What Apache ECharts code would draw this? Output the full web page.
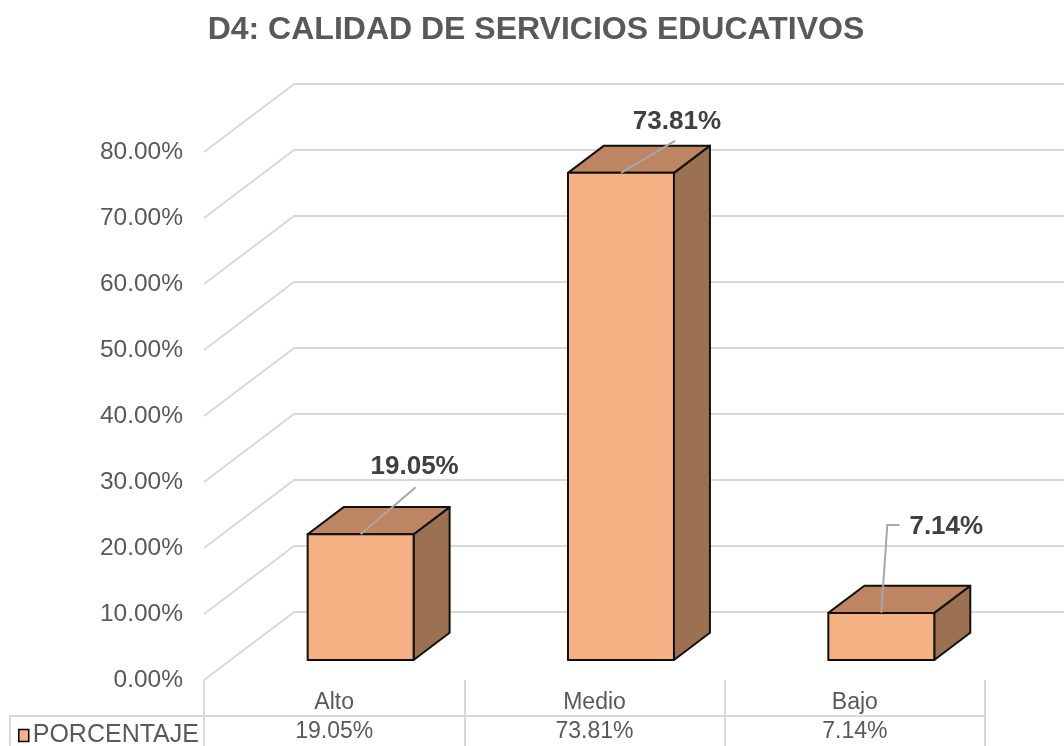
<!DOCTYPE html>
<html>
<head>
<meta charset="utf-8">
<script src="https://cdn.jsdelivr.net/npm/echarts@6/dist/echarts.min.js"></script>
<style>
  html, body { margin: 0; padding: 0; background: #fff; }
  #chart { width: 1064px; height: 746px; }
</style>
</head>
<body>
<div id="chart"></div>
<script>
const categories = ["Alto", "Medio", "Bajo"];
const percentages = [19.05, 73.81, 7.14];
const gridValues = [0, 10, 20, 30, 40, 50, 60, 70, 80];
const seriesName = "PORCENTAJE";

const FONT = "'Liberation Sans', Arial, sans-serif";
const fmt = (v) => v.toFixed(2) + "%";

// 3D look: how far the back wall sits from the front plane
const DEPTH_X = 90;
const DEPTH_Y = -68;
const BAR_FRONT = 0.294;
const BAR_BACK = 0.694;
const BAR_WIDTH = 0.407;

// label placement relative to the top centre of each bar (hand placed in the original)
const labelLayout = [
  { dx: 54, dy: -67, leader: [[0, 0], [55, -47]] },
  { dx: 56, dy: -51, leader: [[0, 0], [54, -32]] },
  { dx: 65, dy: -86, leader: [[0, 0], [6, -88], [18, -88]] },
];

const chart = echarts.init(document.getElementById("chart"));

const renderWall = (params, api) => {
  const v = api.value(1);
  const p = api.coord([0, v]);
  const band = api.size([1, 0])[0];
  const left = p[0] - band / 2;
  const right = left + band * categories.length;
  return {
    type: "polyline",
    shape: {
      points: [
        [left, p[1]],
        [left + DEPTH_X, p[1] + DEPTH_Y],
        [right + DEPTH_X, p[1] + DEPTH_Y],
      ],
    },
    style: { stroke: "#d9d9d9", lineWidth: 2, fill: null },
  };
};

const renderBar = (params, api) => {
  const idx = api.value(0);
  const v = api.value(1);
  const top = api.coord([idx, v]);
  const base = api.coord([idx, 0]);
  const band = api.size([1, 0])[0];
  const w = band * BAR_WIDTH;
  const ox = DEPTH_X * BAR_FRONT;
  const oy = DEPTH_Y * BAR_FRONT;
  const dx = DEPTH_X * (BAR_BACK - BAR_FRONT);
  const dy = DEPTH_Y * (BAR_BACK - BAR_FRONT);
  const x0 = top[0] - w / 2 + ox;
  const x1 = top[0] + w / 2 + ox;
  const yt = top[1] + oy;
  const yb = base[1] + oy;
  const border = { stroke: "#111", lineWidth: 2, lineJoin: "round" };

  const cx = (x0 + x1) / 2;
  const lay = labelLayout[idx];
  const leaderPts = lay.leader.map((q) => [cx + q[0], yt + q[1]]);

  return {
    type: "group",
    children: [
      {
        type: "polygon",
        shape: { points: [[x1, yt], [x1 + dx, yt + dy], [x1 + dx, yb + dy], [x1, yb]] },
        style: Object.assign({ fill: "#9c7152" }, border),
      },
      {
        type: "polygon",
        shape: { points: [[x0, yt], [x0 + dx, yt + dy], [x1 + dx, yt + dy], [x1, yt]] },
        style: Object.assign({ fill: "#bd8562" }, border),
      },
      {
        type: "rect",
        shape: { x: x0, y: yt, width: x1 - x0, height: yb - yt },
        style: Object.assign({ fill: "#f4b183" }, border),
      },
      {
        type: "polyline",
        shape: { points: leaderPts },
        style: { stroke: "#a6a6a6", lineWidth: 2, fill: null },
      },
      {
        type: "text",
        style: {
          text: fmt(v),
          x: cx + lay.dx,
          y: yt + lay.dy,
          align: "center",
          verticalAlign: "middle",
          fill: "#404040",
          fontSize: 26,
          fontWeight: "bold",
          fontFamily: FONT,
        },
      },
    ],
  };
};

const option = {
  animation: false,
  textStyle: { fontFamily: FONT },
  title: {
    text: "D4: CALIDAD DE SERVICIOS EDUCATIVOS",
    left: 531,
    textAlign: "center",
    top: 9,
    textStyle: { fontSize: 32, fontWeight: "bold", color: "#595959", fontFamily: FONT },
  },
  legend: {
    data: [seriesName],
    left: 13,
    top: 718,
    icon: "rect",
    itemWidth: 10,
    itemHeight: 12,
    itemStyle: { borderColor: "#000", borderWidth: 1.5 },
    textStyle: { fontSize: 25, color: "#595959", fontFamily: FONT, padding: [0, 0, 0, -1] },
  },
  grid: { left: 204, right: 79, top: 152, bottom: 66 },
  xAxis: [
    {
      type: "category",
      data: categories,
      axisLine: { show: false },
      axisTick: { show: true, length: 66, lineStyle: { color: "#d9d9d9", width: 2 } },
      axisLabel: { margin: 11, fontSize: 23, color: "#595959", fontFamily: FONT },
    },
    {
      type: "category",
      data: categories,
      position: "bottom",
      offset: 36,
      axisLine: { show: false },
      axisTick: { show: false },
      axisLabel: {
        margin: 4,
        fontSize: 23,
        color: "#595959",
        fontFamily: FONT,
        formatter: (val, i) => fmt(percentages[i]),
      },
    },
  ],
  yAxis: {
    type: "value",
    min: 0,
    max: 80,
    interval: 10,
    axisLine: { show: false },
    axisTick: { show: false },
    splitLine: { show: false },
    axisLabel: {
      margin: 21,
      fontSize: 24.5,
      color: "#595959",
      fontFamily: FONT,
      formatter: fmt,
      padding: [5, 0, 0, 0],
    },
  },
  graphic: [
    {
      type: "polyline",
      shape: { points: [[10, 746], [10, 716], [985, 716]] },
      style: { stroke: "#d9d9d9", lineWidth: 2, fill: null },
      silent: true,
    },
  ],
  series: [
    {
      name: "walls",
      type: "custom",
      coordinateSystem: "cartesian2d",
      silent: true,
      z: 1,
      encode: { x: 0, y: 1 },
      data: gridValues.map((v) => [0, v]),
      renderItem: renderWall,
    },
    {
      name: seriesName,
      type: "custom",
      coordinateSystem: "cartesian2d",
      z: 2,
      itemStyle: { color: "#f4b183" },
      encode: { x: 0, y: 1 },
      data: percentages.map((v, i) => [i, v]),
      renderItem: renderBar,
    },
  ],
};

chart.setOption(option);
</script>
</body>
</html>
